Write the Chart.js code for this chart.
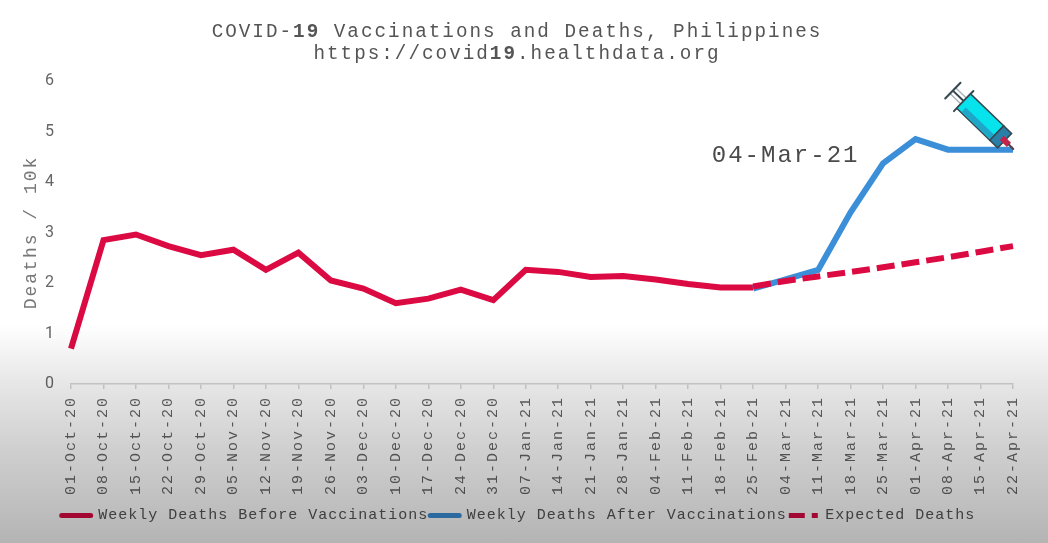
<!DOCTYPE html>
<html>
<head>
<meta charset="utf-8">
<script src="https://cdn.jsdelivr.net/npm/chart.js@4"></script>
<style>
  html, body { margin: 0; padding: 0; background: #fff; }
  #wrap { position: relative; width: 1048px; height: 543px; overflow: hidden; }
  #shade {
    position: absolute; left: 0; top: 0; width: 1048px; height: 543px; pointer-events: none;
    mix-blend-mode: multiply;
    background: linear-gradient(to bottom, #fff 0px, #fff 325px, #e6e6e6 385px, #cfcfcf 450px, #b4b4b4 543px);
  }
</style>
</head>
<body>
<div id="wrap">
  <canvas id="chart" width="1048" height="543"></canvas>
  <div id="shade"></div>
</div>
<script>
const mono = "'Liberation Mono', monospace";

const categories = ['01-Oct-20','08-Oct-20','15-Oct-20','22-Oct-20','29-Oct-20','05-Nov-20','12-Nov-20','19-Nov-20','26-Nov-20',
  '03-Dec-20','10-Dec-20','17-Dec-20','24-Dec-20','31-Dec-20','07-Jan-21','14-Jan-21','21-Jan-21','28-Jan-21',
  '04-Feb-21','11-Feb-21','18-Feb-21','25-Feb-21','04-Mar-21','11-Mar-21','18-Mar-21','25-Mar-21','01-Apr-21','08-Apr-21','15-Apr-21','22-Apr-21'];

const before = [0.7,2.85,2.96,2.73,2.55,2.66,2.26,2.6,2.05,1.89,1.6,1.69,1.87,1.66,2.26,2.22,2.12,2.14,2.07,1.98,1.91,1.91,
  null,null,null,null,null,null,null,null];
const after = [null,null,null,null,null,null,null,null,null,null,null,null,null,null,null,null,null,null,null,null,null,
  1.89,2.07,2.26,3.4,4.37,4.85,4.64,4.64,4.64];
const expected = [null,null,null,null,null,null,null,null,null,null,null,null,null,null,null,null,null,null,null,null,null,
  1.93,2.04,2.13,2.22,2.31,2.41,2.51,2.62,2.73];

const yTicks = [0,1,2,3,4,5,6];
const titleLine1 = [['COVID-',false],['19',true],[' Vaccinations and Deaths, Philippines',false]];
const titleLine2 = [['https://covid',false],['19',true],['.healthdata.org',false]];
const noteLabel = '04-Mar-21';

function drawSegments(ctx, segs, cx, y, size) {
  ctx.textAlign = 'left';
  ctx.textBaseline = 'middle';
  let total = 0;
  segs.forEach(s => {
    ctx.font = (s[1] ? 'bold ' : '') + size + 'px ' + mono;
    total += ctx.measureText(s[0]).width;
  });
  let x = cx - total / 2;
  segs.forEach(s => {
    ctx.font = (s[1] ? 'bold ' : '') + size + 'px ' + mono;
    ctx.fillText(s[0], x, y);
    x += ctx.measureText(s[0]).width;
  });
}

function drawSyringe(ctx, x, y) {
  ctx.save();
  ctx.translate(x, y);
  ctx.rotate(44 * Math.PI / 180);
  ctx.lineCap = 'round';
  ctx.strokeStyle = '#aab4bc'; ctx.lineWidth = 1.5;
  ctx.beginPath(); ctx.moveTo(-85, -4); ctx.lineTo(-70, -4); ctx.moveTo(-85, 4); ctx.lineTo(-70, 4); ctx.stroke();
  ctx.strokeStyle = '#37474f'; ctx.lineWidth = 2;
  ctx.beginPath(); ctx.moveTo(-85, -11); ctx.lineTo(-85, 11); ctx.moveTo(-70, -14); ctx.lineTo(-70, 14);
  ctx.moveTo(-85, 0); ctx.lineTo(-70, 0); ctx.stroke();
  ctx.fillStyle = '#07e3ec'; ctx.lineWidth = 1.5;
  ctx.fillRect(-70, -10, 46, 20); ctx.strokeRect(-70, -10, 46, 20);
  ctx.fillStyle = '#1fa6c9'; ctx.fillRect(-64, 3, 40, 6);
  ctx.fillStyle = '#2a7fa8'; ctx.fillRect(-24, -10, 11, 20); ctx.strokeRect(-24, -10, 11, 20);
  ctx.fillStyle = '#c2234a'; ctx.fillRect(-17, -3, 10, 6);
  ctx.strokeStyle = '#5b3b48'; ctx.lineWidth = 2;
  ctx.beginPath(); ctx.moveTo(-7, 0); ctx.lineTo(-1, 0); ctx.stroke();
  ctx.restore();
}

// legend text is tighter than the rest
function tightLegend(chart) {
  const lg = chart.legend;
  if (!lg || lg.tight) return;
  lg.tight = true;
  ['fit', 'draw'].forEach(name => {
    const orig = lg[name];
    lg[name] = function (...args) {
      chart.ctx.letterSpacing = '1px';
      orig.apply(this, args);
      chart.ctx.letterSpacing = '2px';
    };
  });
}

const extras = {
  id: 'extras',
  beforeInit(chart) { chart.ctx.letterSpacing = '2px'; },
  beforeLayout(chart) { tightLegend(chart); },
  beforeDraw(chart) { chart.ctx.letterSpacing = '2px'; },
  afterDraw(chart) {
    const ctx = chart.ctx;
    const sx = chart.scales.x, sy = chart.scales.y;
    ctx.save();
    ctx.fillStyle = '#555';
    drawSegments(ctx, titleLine1, 517, 32, 19.3);
    drawSegments(ctx, titleLine2, 517, 54, 19.3);
    ctx.font = '24px ' + mono;
    ctx.textAlign = 'center';
    ctx.textBaseline = 'middle';
    ctx.fillStyle = '#4a4a4a';
    ctx.fillText(noteLabel, sx.getPixelForValue(categories.indexOf(noteLabel)), sy.getPixelForValue(4.53));
    ctx.restore();
    const last = categories.length - 1;
    drawSyringe(ctx, sx.getPixelForValue(last) + 1, sy.getPixelForValue(after[last]));
  }
};

new Chart(document.getElementById('chart').getContext('2d'), {
  type: 'line',
  plugins: [extras],
  data: {
    labels: categories,
    datasets: [
      { label: 'Weekly Deaths Before Vaccinations', data: before, borderColor: '#dc0a43', backgroundColor: '#dc0a43', order: 3 },
      { label: 'Weekly Deaths After Vaccinations', data: after, borderColor: '#3a8fd8', backgroundColor: '#3a8fd8', order: 2 },
      { label: 'Expected Deaths', data: expected, borderColor: '#dc0a43', backgroundColor: '#dc0a43', borderDash: [18, 7], order: 1 }
    ]
  },
  options: {
    responsive: false,
    animation: false,
    layout: { padding: { top: 81, right: 35, left: 24, bottom: 10 } },
    elements: {
      line: { borderWidth: 6, tension: 0, borderCapStyle: 'butt', borderJoinStyle: 'miter' },
      point: { radius: 0 }
    },
    plugins: {
      title: { display: false },
      tooltip: { enabled: false },
      legend: {
        position: 'bottom',
        labels: {
          color: '#555',
          font: { family: mono, size: 15 },
          boxWidth: 29,
          boxHeight: 0,
          padding: 2,
          sort: (a, b) => a.datasetIndex - b.datasetIndex,
          generateLabels(chart) {
            const items = Chart.defaults.plugins.legend.labels.generateLabels(chart);
            items.forEach(it => {
              it.lineJoin = 'round';
              it.lineWidth = 5;
              if (it.lineDash && it.lineDash.length) it.lineDash = [16, 7, 6, 200];
            });
            return items;
          }
        }
      }
    },
    scales: {
      x: {
        offset: false,
        grid: { display: true, drawOnChartArea: false, drawTicks: true, tickLength: 5, color: '#d6d6d6', lineWidth: 1.5 },
        border: { display: true, color: '#d6d6d6', width: 1.5 },
        afterFit(scale) { scale.height = 122; },
        ticks: {
          autoSkip: false,
          minRotation: 90,
          maxRotation: 90,
          color: '#666',
          padding: 7,
          font: { family: mono, size: 15 }
        }
      },
      y: {
        min: 0,
        max: 6,
        afterBuildTicks(scale) { scale.ticks = yTicks.map(v => ({ value: v })); },
        afterFit(scale) { scale.width = 47; },
        grid: { display: false },
        border: { display: false },
        title: {
          display: true,
          text: 'Deaths / 10k',
          color: '#777',
          font: { family: mono, size: 18 },
          padding: { top: -4, bottom: 0 }
        },
        ticks: {
          color: '#666',
          padding: 7,
          font: { family: 'Roboto', size: 16 }
        }
      }
    }
  }
});
</script>
</body>
</html>
